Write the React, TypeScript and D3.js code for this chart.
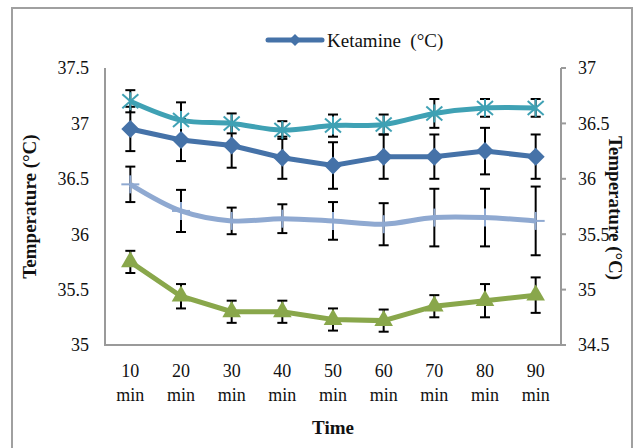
import React from 'react';
import * as d3 from 'd3';

const times = ['10', '20', '30', '40', '50', '60', '70', '80', '90'];

const ketamine = [36.95, 36.85, 36.8, 36.69, 36.62, 36.7, 36.7, 36.75, 36.7];
const ketamineErr = [0.2, 0.19, 0.2, 0.19, 0.21, 0.2, 0.2, 0.21, 0.2];

const starSeries = [37.2, 37.03, 37.0, 36.94, 36.98, 36.99, 37.09, 37.14, 37.14];
const starErr = [0.1, 0.16, 0.09, 0.08, 0.1, 0.09, 0.13, 0.08, 0.08];

const plusSeries = [36.45, 36.21, 36.12, 36.14, 36.12, 36.09, 36.15, 36.15, 36.12];
const plusErr = [0.16, 0.19, 0.12, 0.13, 0.17, 0.19, 0.26, 0.26, 0.31];

const triSeries = [35.75, 35.44, 35.3, 35.3, 35.23, 35.22, 35.35, 35.4, 35.45];
const triErr = [0.1, 0.11, 0.1, 0.1, 0.1, 0.1, 0.1, 0.15, 0.16];

const leftTicks = [35, 35.5, 36, 36.5, 37, 37.5];
const rightTicks = [34.5, 35, 35.5, 36, 36.5, 37];

const W = 634;
const H = 448;
const plot = { left: 105, right: 561, top: 68, bottom: 345 };
const font = "'Liberation Serif', 'Times New Roman', serif";

const COL_KET = '#4572a8';
const COL_STAR = '#3fa1b4';
const COL_PLUS = '#8fa9d1';
const COL_TRI = '#89a74b';

export default function App() {
  const x = d3.scaleBand<string>().domain(times).range([plot.left, plot.right]);
  const cx = (t: string) => (x(t) as number) + x.bandwidth() / 2;
  const yL = d3.scaleLinear().domain([35, 37.5]).range([plot.bottom, plot.top]);
  const yR = d3.scaleLinear().domain([34.5, 37]).range([plot.bottom, plot.top]);

  const straight = d3.line<number>().x((_, i) => cx(times[i])).y(d => yL(d));
  const smooth = d3
    .line<number>()
    .x((_, i) => cx(times[i]))
    .y(d => yL(d))
    .curve(d3.curveCatmullRom.alpha(0.5));

  const errorBars = (vals: number[], errs: number[], key: string) =>
    vals.map((v, i) => {
      const px = cx(times[i]);
      const y1 = yL(v + errs[i]);
      const y2 = yL(v - errs[i]);
      return (
        <g key={key + i} stroke="#000" strokeWidth={2}>
          <line x1={px} x2={px} y1={y1} y2={y2} />
          <line x1={px - 5} x2={px + 5} y1={y1} y2={y1} />
          <line x1={px - 5} x2={px + 5} y1={y2} y2={y2} />
        </g>
      );
    });

  const diamond = (px: number, py: number, r: number) =>
    `M${px},${py - r}L${px + r},${py}L${px},${py + r}L${px - r},${py}Z`;
  const triangle = d3.symbol().type(d3.symbolTriangle).size(150);

  const txt = { fontFamily: font, fill: '#111' } as const;

  return (
    <svg
      width={W}
      height={H}
      style={{ position: 'fixed', top: 0, left: 0, background: '#fff', fontFamily: font }}
    >
      <rect x={12} y={8} width={620} height={460} fill="#fff" stroke="#a0a0a0" strokeWidth={2} />

      {/* plot frame */}
      <path
        d={`M${plot.left},${plot.top}V${plot.bottom}H${plot.right}V${plot.top}`}
        fill="none"
        stroke="#9a9a9a"
        strokeWidth={2}
      />
      {rightTicks.map(t => (
        <line key={'rt' + t} x1={plot.right} x2={plot.right + 5} y1={yR(t)} y2={yR(t)} stroke="#9a9a9a" strokeWidth={2} />
      ))}

      {/* left axis labels */}
      {leftTicks.map(t => (
        <text key={'lt' + t} x={89} y={yL(t)} dy="0.35em" textAnchor="end" fontSize={18} style={txt}>
          {t}
        </text>
      ))}
      {/* right axis labels */}
      {rightTicks.map(t => (
        <text key={'rl' + t} x={578} y={yR(t)} dy="0.35em" textAnchor="start" fontSize={18} style={txt}>
          {t}
        </text>
      ))}

      {/* x labels */}
      {times.map(t => (
        <g key={'xl' + t} textAnchor="middle">
          <text x={cx(t)} y={377} fontSize={18} style={txt}>{t}</text>
          <text x={cx(t)} y={401} fontSize={18} style={txt}>min</text>
        </g>
      ))}

      <text x={333} y={434} textAnchor="middle" fontSize={19} fontWeight="bold" style={txt}>
        Time
      </text>
      <text
        transform={`translate(36,${(plot.top + plot.bottom) / 2}) rotate(-90)`}
        textAnchor="middle"
        fontSize={19}
        fontWeight="bold"
        style={txt}
      >
        Temperature (°C)
      </text>
      <text
        transform={`translate(609,208) rotate(90)`}
        textAnchor="middle"
        fontSize={19}
        fontWeight="bold"
        style={txt}
      >
        Temperature (°C)
      </text>

      {/* legend */}
      <line x1={268} x2={322} y1={40} y2={40} stroke={COL_KET} strokeWidth={5} strokeLinecap="round" />
      <path d={diamond(295, 40, 6)} fill={COL_KET} />
      <text x={327} y={40} dy="0.35em" fontSize={19} style={{ ...txt, whiteSpace: 'pre' }}>
        {'Ketamine  (°C)'}
      </text>

      {/* error bars behind series */}
      {errorBars(starSeries, starErr, 's')}
      {errorBars(ketamine, ketamineErr, 'k')}
      {errorBars(plusSeries, plusErr, 'p')}
      {errorBars(triSeries, triErr, 't')}

      {/* light blue plus series */}
      <path d={smooth(plusSeries) || ''} fill="none" stroke={COL_PLUS} strokeWidth={5} />
      {plusSeries.map((v, i) => {
        const px = cx(times[i]);
        const py = yL(v);
        return (
          <g key={'pm' + i} stroke={COL_PLUS} strokeWidth={2}>
            <line x1={px - 9} x2={px + 9} y1={py} y2={py} />
            <line x1={px} x2={px} y1={py - 9} y2={py + 9} />
          </g>
        );
      })}

      {/* green triangle series */}
      <path d={straight(triSeries) || ''} fill="none" stroke={COL_TRI} strokeWidth={5} />
      {triSeries.map((v, i) => (
        <path
          key={'tm' + i}
          d={triangle() || ''}
          transform={`translate(${cx(times[i])},${yL(v)})`}
          fill={COL_TRI}
        />
      ))}

      {/* ketamine diamond series */}
      <path d={straight(ketamine) || ''} fill="none" stroke={COL_KET} strokeWidth={5} />
      {ketamine.map((v, i) => (
        <path key={'km' + i} d={diamond(cx(times[i]), yL(v), 9)} fill={COL_KET} />
      ))}

      {/* cyan star series */}
      <path d={smooth(starSeries) || ''} fill="none" stroke={COL_STAR} strokeWidth={5} />
      {starSeries.map((v, i) => {
        const px = cx(times[i]);
        const py = yL(v);
        return (
          <g key={'sm' + i} stroke={COL_STAR} strokeWidth={2}>
            <line x1={px - 8} x2={px + 8} y1={py - 7} y2={py + 7} />
            <line x1={px - 8} x2={px + 8} y1={py + 7} y2={py - 7} />
            <line x1={px} x2={px} y1={py - 9} y2={py + 9} />
          </g>
        );
      })}
    </svg>
  );
}
